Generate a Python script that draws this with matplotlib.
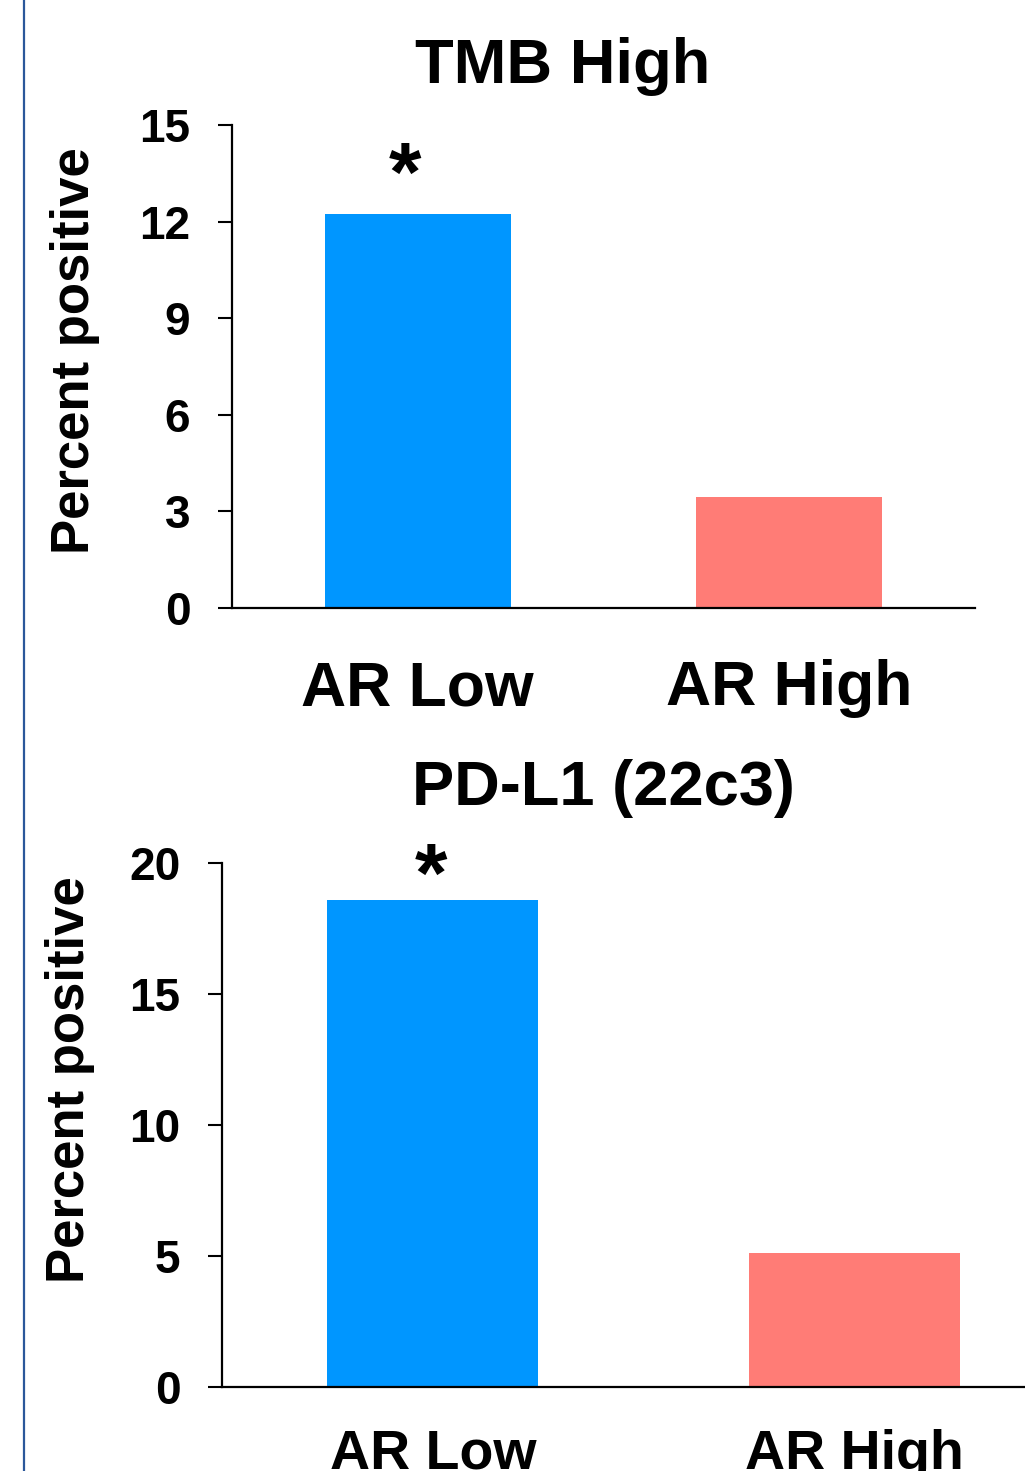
import matplotlib
matplotlib.use("Agg")
import matplotlib.pyplot as plt
from matplotlib.lines import Line2D

# data
groups = ['AR Low', 'AR High']
tmb_vals = [12.25, 3.45]
pdl1_vals = [18.6, 5.1]
bar_colors = ['#0096FF', '#FF7C76']
tmb_ticks = [0, 3, 6, 9, 12, 15]
pdl1_ticks = [0, 5, 10, 15, 20]

plt.rcParams['font.family'] = ['Liberation Sans', 'DejaVu Sans']
plt.rcParams['font.weight'] = 'bold'

W, H = 1025, 1471
fig = plt.figure(figsize=(W / 100, H / 100), dpi=100)


def px_axes(left, top, right, bottom):
    return fig.add_axes([left / W, 1 - bottom / H, (right - left) / W, (bottom - top) / H])


def style(ax, ticks, xsize, xpad, tickpad):
    for s in ['top', 'right']:
        ax.spines[s].set_visible(False)
    ax.spines['left'].set_linewidth(1.6)
    ax.spines['bottom'].set_linewidth(1.6)
    ax.set_yticks(ticks)
    ax.set_ylim(ticks[0], ticks[-1])
    ax.set_xlim(-0.5, 1.5)
    ax.tick_params(axis='y', direction='out', length=10, width=1.5, pad=tickpad, labelsize=33)
    ax.tick_params(axis='x', length=0, pad=xpad)
    ax.set_xticks(range(len(groups)))
    ax.set_xticklabels(groups, fontsize=xsize, fontweight='bold')
    for t in ax.get_yticklabels():
        t.set_fontweight('bold')


# --- TMB High ---
ax1 = px_axes(232, 125, 975, 608)
ax1.bar(range(len(groups)), tmb_vals, width=0.5, color=bar_colors)
style(ax1, tmb_ticks, 45, 37, 20)
ax1.set_ylabel('Percent positive', fontsize=38, fontweight='bold', va='center')
ax1.yaxis.set_label_coords(-0.211, 0.532)
ax1.text(-0.035, tmb_vals[0] + 1.07, '*', fontsize=60, fontweight='bold', ha='center', va='center')
fig.text(563 / W, 1 - 66 / H, 'TMB High', fontsize=45.5, fontweight='bold', ha='center', va='center')

# --- PD-L1 (22c3) ---
ax2 = px_axes(222, 863, 1065, 1387)
ax2.bar(range(len(groups)), pdl1_vals, width=0.5, color=bar_colors)
style(ax2, pdl1_ticks, 40, 30, 20)
ax2.set_ylabel('Percent positive', fontsize=38, fontweight='bold', va='center')
ax2.yaxis.set_label_coords(-0.180, 0.586)
ax2.text(-0.005, pdl1_vals[0] + 0.74, '*', fontsize=60, fontweight='bold', ha='center', va='center')
fig.text(603 / W, 1 - 789 / H, 'PD-L1 (22c3)', fontsize=45.5, fontweight='bold', ha='center', va='center')

# slide border on the left
fig.add_artist(Line2D([24 / W, 24 / W], [0, 1], color='#2B579A', lw=1.6))

fig.savefig('out.png', dpi=100)
